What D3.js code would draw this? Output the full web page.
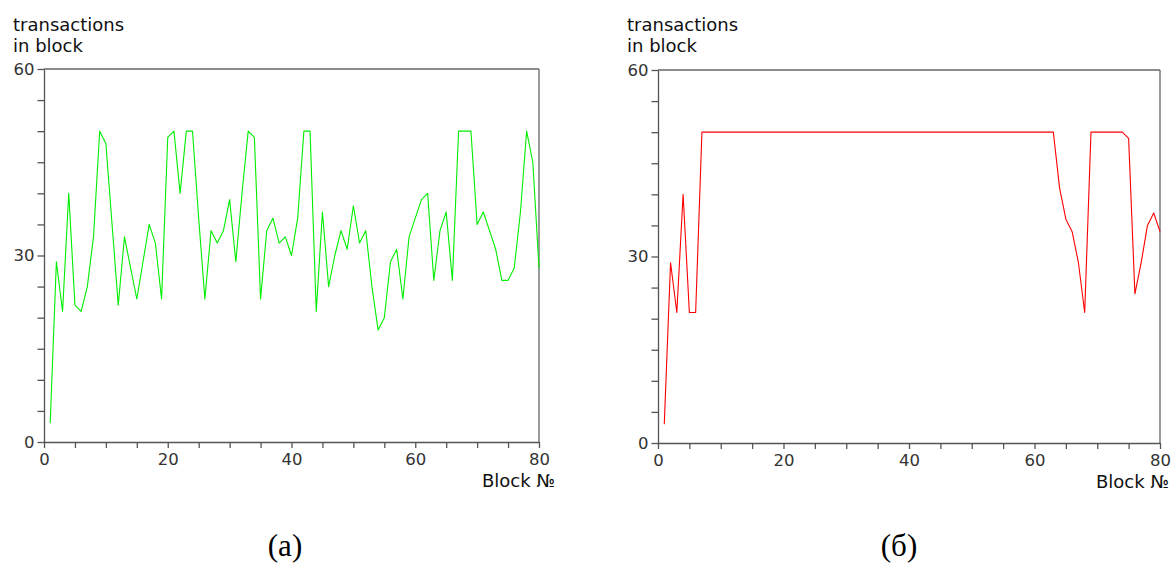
<!DOCTYPE html>
<html>
<head>
<meta charset="utf-8">
<script src="https://cdn.jsdelivr.net/npm/d3@7"></script>
<style>
  html, body { margin: 0; padding: 0; background: #fff; }
  svg { display: block; }
  .axis text { font-family: "DejaVu Sans", sans-serif; font-size: 16.5px; fill: #333; }
  .axis path, .axis line { stroke: #555; stroke-width: 1.3; }
  .ttl { font-family: "DejaVu Sans", sans-serif; font-size: 18px; fill: #111; }
  .cap { font-family: "Liberation Serif", "Times New Roman", serif; font-size: 31px; fill: #000; }
</style>
</head>
<body>
<svg id="chart" width="1171" height="564"></svg>
<script>
// Block numbers on the x axis
const blocks = d3.range(1, 81);

// (а) transactions per block, random ordering
const txRandom = [
  3, 29, 21, 40, 22, 21, 25, 33, 50, 48,
  35, 22, 33, 28, 23, 29, 35, 32, 23, 49,
  50, 40, 50, 50, 36, 23, 34, 32, 34, 39,
  29, 40, 50, 49, 23, 34, 36, 32, 33, 30,
  36, 50, 50, 21, 37, 25, 30, 34, 31, 38,
  32, 34, 25, 18, 20, 29, 31, 23, 33, 36,
  39, 40, 26, 34, 37, 26, 50, 50, 50, 35,
  37, 34, 31, 26, 26, 28, 37, 50, 45, 28
];

// (б) transactions per block, ordered filling
const txOrdered = [
  3, 29, 21, 40, 21, 21, 50, 50, 50, 50,
  50, 50, 50, 50, 50, 50, 50, 50, 50, 50,
  50, 50, 50, 50, 50, 50, 50, 50, 50, 50,
  50, 50, 50, 50, 50, 50, 50, 50, 50, 50,
  50, 50, 50, 50, 50, 50, 50, 50, 50, 50,
  50, 50, 50, 50, 50, 50, 50, 50, 50, 50,
  50, 50, 50, 41, 36, 34, 29, 21, 50, 50,
  50, 50, 50, 50, 49, 24, 29, 35, 37, 34
];

// Axis ticks
const xTicks = d3.range(0, 81, 5);
const xLabels = [0, 20, 40, 60, 80];
const yTicks = d3.range(0, 61, 5);
const yLabels = [0, 30, 60];

const yTitle = ["transactions", "in block"];
const xTitle = "Block №";
const captions = ["(а)", "(б)"];

const svg = d3.select("#chart");

function panel(opts) {
  const { left, right, top, bottom, values, color, caption, capX, titleX, xTitleEnd } = opts;
  const x = d3.scaleLinear().domain([0, 80]).range([left, right]);
  const y = d3.scaleLinear().domain([0, 60]).range([bottom, top]);
  const g = svg.append("g");

  // frame top and right
  g.append("line").attr("x1", left).attr("x2", right).attr("y1", top).attr("y2", top)
    .attr("stroke", "#666").attr("stroke-width", 1.3);
  g.append("line").attr("x1", right).attr("x2", right).attr("y1", top).attr("y2", bottom)
    .attr("stroke", "#666").attr("stroke-width", 1.3);

  const xAxis = d3.axisBottom(x).tickValues(xTicks)
    .tickFormat(d => xLabels.includes(d) ? d : "")
    .tickSize(6).tickSizeOuter(0).tickPadding(5);
  g.append("g").attr("class", "axis").attr("transform", `translate(0,${bottom})`).call(xAxis);

  const yAxis = d3.axisLeft(y).tickValues(yTicks)
    .tickFormat(d => yLabels.includes(d) ? d : "")
    .tickSize(6.5).tickSizeOuter(0).tickPadding(3);
  g.append("g").attr("class", "axis").attr("transform", `translate(${left},0)`).call(yAxis);

  const line = d3.line().x((d, i) => x(blocks[i])).y(d => y(d));
  g.append("path").datum(values).attr("d", line)
    .attr("fill", "none").attr("stroke", color).attr("stroke-width", 1.1)
    .attr("stroke-linejoin", "round");

  // axis titles
  g.append("text").attr("class", "ttl").attr("x", titleX).attr("y", 31).text(yTitle[0]);
  g.append("text").attr("class", "ttl").attr("x", titleX).attr("y", 52).text(yTitle[1]);
  g.append("text").attr("class", "ttl").attr("x", xTitleEnd).attr("y", bottom + 45)
    .attr("text-anchor", "end").text(xTitle);

  g.append("text").attr("class", "cap").attr("x", capX).attr("y", 556)
    .attr("text-anchor", "middle").text(caption);
}

panel({ left: 44, right: 539, top: 69, bottom: 442, values: txRandom,
        color: "#00ee00", caption: captions[0], capX: 285, titleX: 13, xTitleEnd: 555 });
panel({ left: 658, right: 1160, top: 70, bottom: 443, values: txOrdered,
        color: "#ff0000", caption: captions[1], capX: 899, titleX: 627, xTitleEnd: 1169 });
</script>
</body>
</html>
